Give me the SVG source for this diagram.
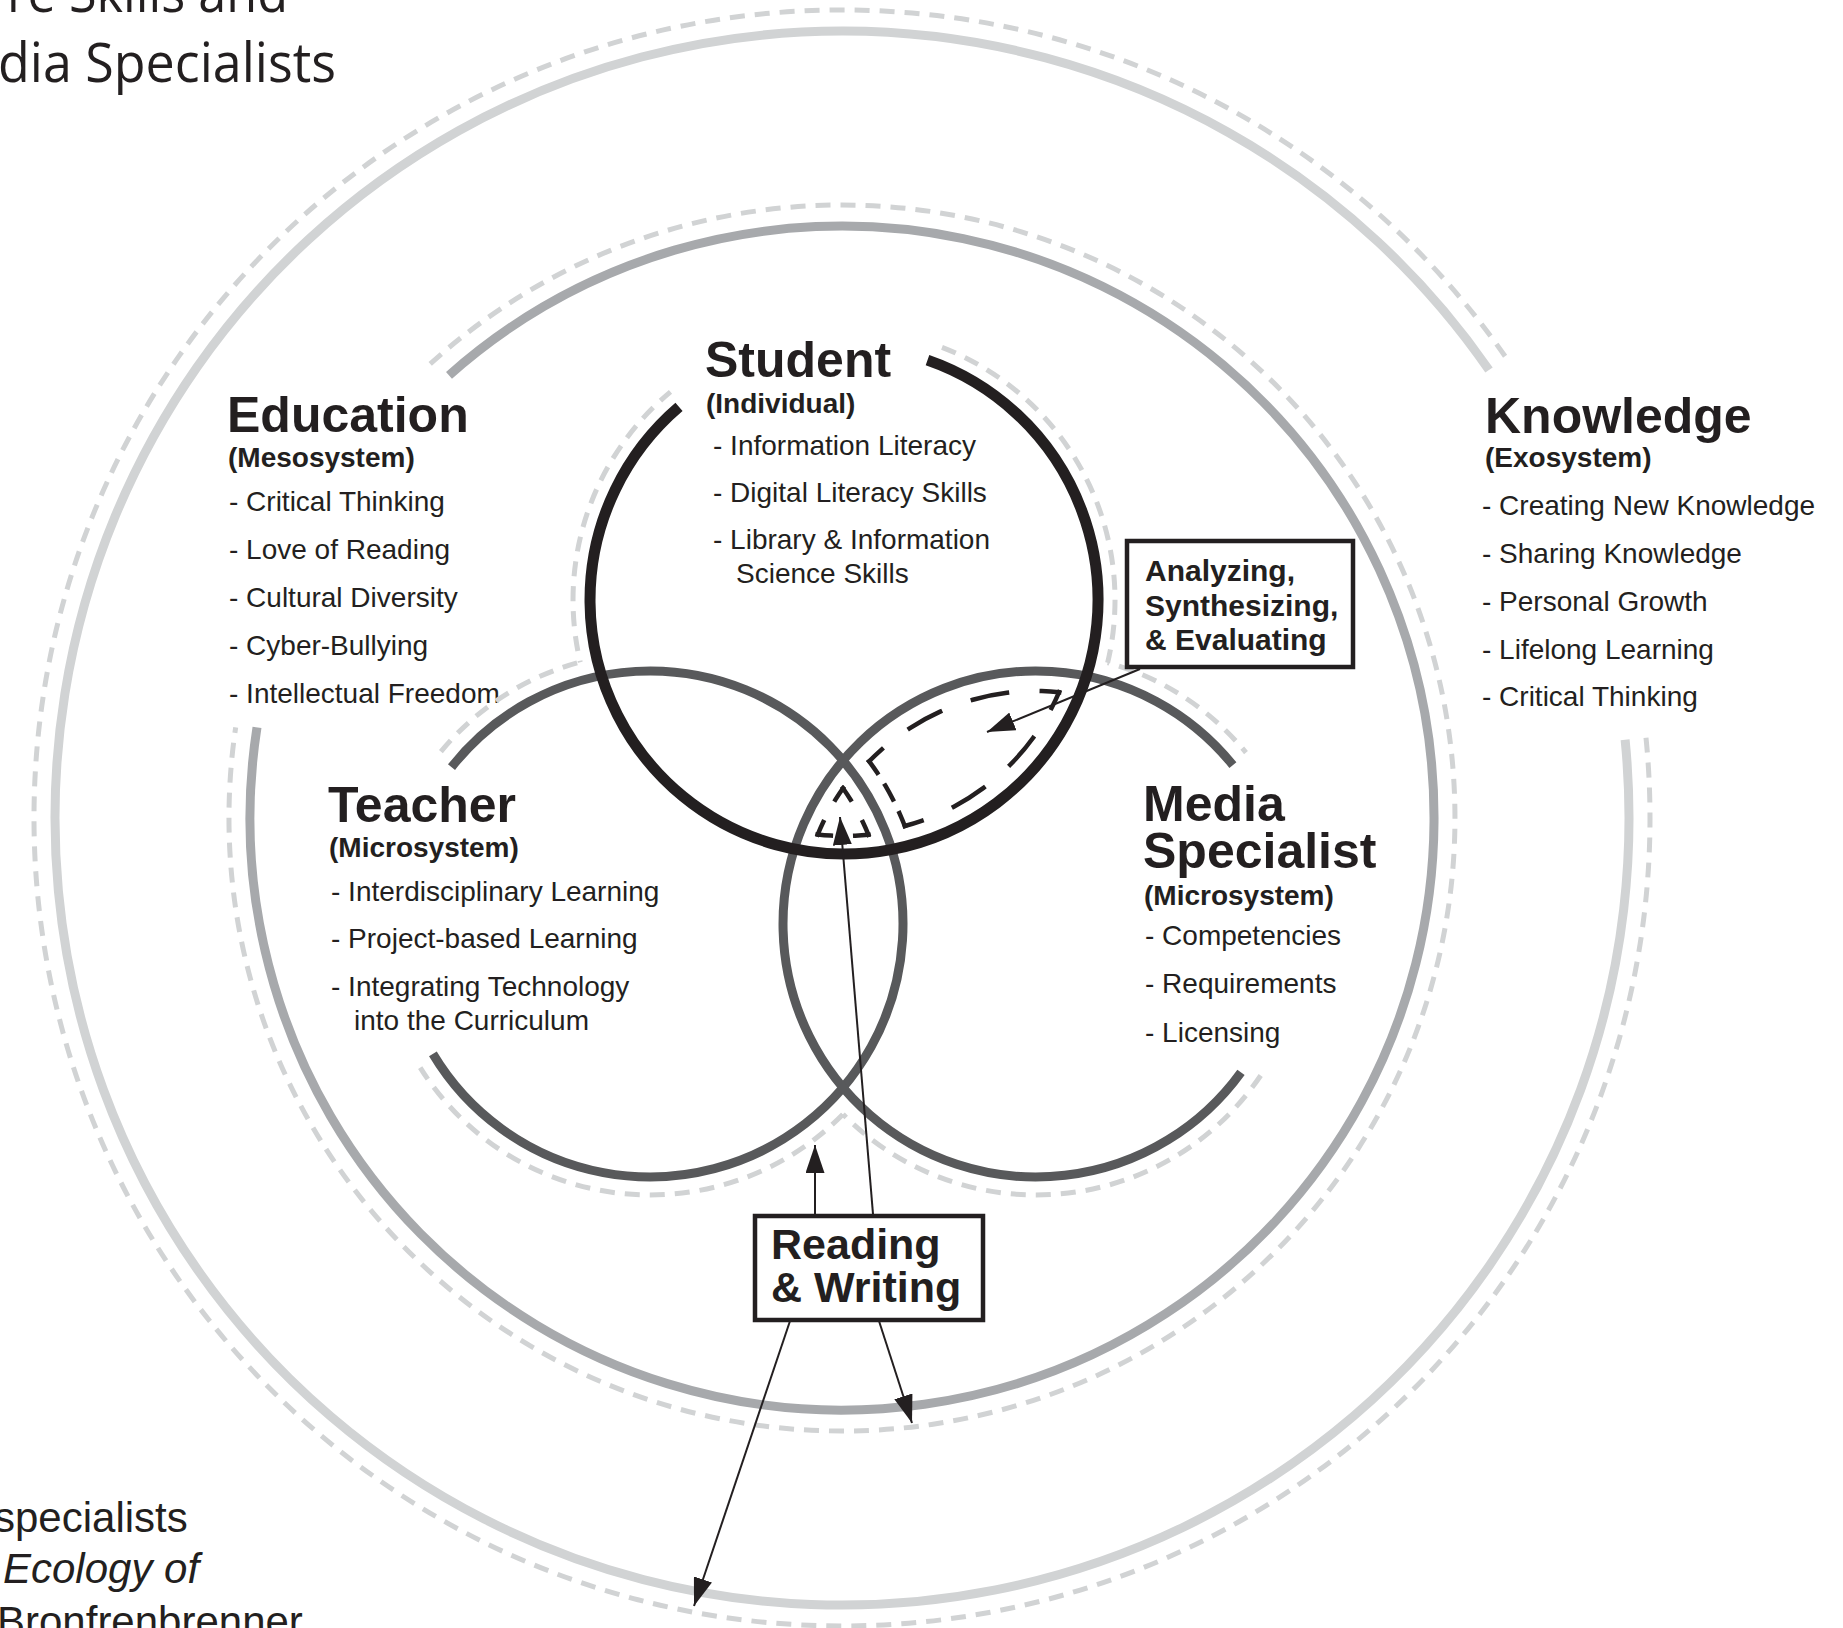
<svg xmlns="http://www.w3.org/2000/svg" width="1843" height="1628" viewBox="0 0 1843 1628">
<style>
.ring-o{fill:none;stroke:#d1d3d4;stroke-width:9}
.ring-m{fill:none;stroke:#a7a9ac;stroke-width:9}
.dash{fill:none;stroke:#d1d3d4;stroke-width:5;stroke-dasharray:15 10}
.stu{fill:none;stroke:#231f20;stroke-width:11}
.mic{fill:none;stroke:#58595b;stroke-width:9}
.idash{fill:none;stroke:#231f20;stroke-width:4.5;stroke-linecap:square}
.conn{fill:none;stroke:#231f20;stroke-width:2}
.h{font-family:'Liberation Sans',Arial,Helvetica,sans-serif;font-weight:bold;font-size:50px;fill:#231f20}
.sub{font-family:'Liberation Sans',Arial,Helvetica,sans-serif;font-weight:bold;font-size:28px;fill:#231f20}
.it{font-family:'Liberation Sans',Arial,Helvetica,sans-serif;font-size:28px;fill:#231f20}
.box{fill:#fff;stroke:#231f20;stroke-width:4.5}
.bt{font-family:'Liberation Sans',Arial,Helvetica,sans-serif;font-weight:bold;fill:#231f20}
.ttl{font-family:'Open Sans','Liberation Sans',sans-serif;font-size:55px;fill:#231f20}
.cap{font-family:'Liberation Sans',Arial,Helvetica,sans-serif;font-size:42px;fill:#231f20}
</style>
<defs>
<marker id="ah" markerUnits="userSpaceOnUse" markerWidth="28" markerHeight="19" refX="28" refY="9.5" orient="auto">
<path d="M0,0 L28,9.5 L0,19 Z" fill="#231f20"/>
</marker>
<mask id="mS" maskUnits="userSpaceOnUse" x="0" y="0" width="1843" height="1628">
<rect width="1843" height="1628" fill="#fff"/>
<circle cx="650" cy="924" r="271" fill="#000"/>
<circle cx="1036" cy="924" r="271" fill="#000"/>
</mask>
<mask id="mT" maskUnits="userSpaceOnUse" x="0" y="0" width="1843" height="1628">
<rect width="1843" height="1628" fill="#fff"/>
<circle cx="844" cy="600" r="271" fill="#000"/>
<circle cx="1036" cy="924" r="271" fill="#000"/>
</mask>
<mask id="mM" maskUnits="userSpaceOnUse" x="0" y="0" width="1843" height="1628">
<rect width="1843" height="1628" fill="#fff"/>
<circle cx="844" cy="600" r="271" fill="#000"/>
<circle cx="650" cy="924" r="271" fill="#000"/>
</mask>
</defs>

<g id="title">
<text class="ttl" x="7" y="12" textLength="281" lengthAdjust="spacingAndGlyphs">re Skills and</text>
<text class="ttl" x="-2" y="82" textLength="338" lengthAdjust="spacingAndGlyphs">dia Specialists</text>
</g>

<g id="caption">
<text class="cap" x="-6" y="1532">specialists</text>
<text class="cap" x="3" y="1583" font-style="italic">Ecology of</text>
<text class="cap" x="-3" y="1636">Bronfrenbrenner</text>
</g>

<g id="knowledge">
<path class="dash" d="M1646.0,737.7 A808,808 0 1 1 1506.3,358.0"/>
<path class="ring-o" d="M1625.1,739.8 A787,787 0 1 1 1489.0,370.0"/>
<text class="h" x="1485" y="433">Knowledge</text>
<text class="sub" x="1485" y="467">(Exosystem)</text>
<text class="it" x="1482" y="515">- Creating New Knowledge</text>
<text class="it" x="1482" y="563">- Sharing Knowledge</text>
<text class="it" x="1482" y="611">- Personal Growth</text>
<text class="it" x="1482" y="659">- Lifelong Learning</text>
<text class="it" x="1482" y="706">- Critical Thinking</text>
</g>

<g id="education">
<path class="dash" d="M430.2,363.9 A613,613 0 1 1 235.7,727.4"/>
<path class="ring-m" d="M449.0,375.3 A592,592 0 1 1 257.0,727.4"/>
<text class="h" x="227" y="432">Education</text>
<text class="sub" x="228" y="467">(Mesosystem)</text>
<text class="it" x="229" y="511">- Critical Thinking</text>
<text class="it" x="229" y="559">- Love of Reading</text>
<text class="it" x="229" y="607">- Cultural Diversity</text>
<text class="it" x="229" y="655">- Cyber-Bullying</text>
<text class="it" x="229" y="703">- Intellectual Freedom</text>
</g>

<g id="venn-outline">
<path class="dash" mask="url(#mS)" d="M942.0,347.3 A271,271 0 1 1 670.5,391.8"/>
<path class="dash" mask="url(#mT)" d="M440.9,751.6 A271,271 0 1 1 420.2,1067.6"/>
<path class="dash" mask="url(#mM)" d="M1260.7,1075.5 A271,271 0 1 1 1246.0,752.7"/>
</g>

<g id="teacher">
<path class="mic" d="M451.5,767.1 A253,253 0 1 1 432.9,1053.9"/>
<text class="h" x="328" y="822">Teacher</text>
<text class="sub" x="329" y="857">(Microsystem)</text>
<text class="it" x="331" y="901">- Interdisciplinary Learning</text>
<text class="it" x="331" y="948">- Project-based Learning</text>
<text class="it" x="331" y="996">- Integrating Technology</text>
<text class="it" x="354" y="1030">into the Curriculum</text>
</g>

<g id="media-specialist">
<path class="mic" d="M1241.0,1072.3 A253,253 0 1 1 1232.9,765.1"/>
<text class="h" x="1143" y="821">Media</text>
<text class="h" x="1143" y="868">Specialist</text>
<text class="sub" x="1144" y="905">(Microsystem)</text>
<text class="it" x="1145" y="945">- Competencies</text>
<text class="it" x="1145" y="993">- Requirements</text>
<text class="it" x="1145" y="1042">- Licensing</text>
</g>

<g id="student">
<path class="stu" d="M927.5,360.1 A254,254 0 1 1 679.0,406.9"/>
<text class="h" x="705" y="377">Student</text>
<text class="sub" x="706" y="413">(Individual)</text>
<text class="it" x="713" y="455">- Information Literacy</text>
<text class="it" x="713" y="502">- Digital Literacy Skills</text>
<text class="it" x="713" y="549">- Library &amp; Information</text>
<text class="it" x="736" y="583">Science Skills</text>
</g>

<g id="lens-student-media">
<path class="idash" pathLength="300" stroke-dasharray="50 50" stroke-dashoffset="25" d="M1059.1,692.2 A234,234 0 0 1 904.8,826.0"/>
<path class="idash" pathLength="74" stroke-dasharray="14 15 16 15 14 30" d="M904.8,826.0 A273,273 0 0 0 869.2,761.3"/>
<path class="idash" pathLength="300" stroke-dasharray="50 50" stroke-dashoffset="25" d="M869.2,761.3 A233,233 0 0 1 1059.1,692.2"/>
</g>

<g id="center-all-three">
<path class="idash" pathLength="100" stroke-dasharray="26 48 26 100" d="M843,788.2 A236,236 0 0 0 817.7,834.5"/>
<path class="idash" pathLength="100" stroke-dasharray="26 48 26 100" d="M817.7,834.5 A236,236 0 0 0 868.4,834.7"/>
<path class="idash" pathLength="100" stroke-dasharray="26 48 26 100" d="M868.4,834.7 A236,236 0 0 0 843,788.2"/>
</g>

<g id="connectors">
<path class="conn" marker-end="url(#ah)" d="M1140,669 L987,732"/>
<path class="conn" marker-end="url(#ah)" d="M815,1214 L815,1145"/>
<path class="conn" marker-end="url(#ah)" d="M873,1214 L840,817"/>
<path class="conn" marker-end="url(#ah)" d="M790,1321 L694,1606"/>
<path class="conn" marker-end="url(#ah)" d="M879,1321 L912,1423"/>
</g>

<g id="box-analyzing">
<rect class="box" x="1127" y="541" width="226" height="126"/>
<text class="bt" font-size="30" x="1145" y="581">Analyzing,</text>
<text class="bt" font-size="30" x="1145" y="616">Synthesizing,</text>
<text class="bt" font-size="30" x="1145" y="650">&amp; Evaluating</text>
</g>

<g id="box-reading-writing">
<rect class="box" x="755" y="1216" width="228" height="104"/>
<text class="bt" font-size="43" x="771" y="1259">Reading</text>
<text class="bt" font-size="43" x="771" y="1302">&amp; Writing</text>
</g>
</svg>
